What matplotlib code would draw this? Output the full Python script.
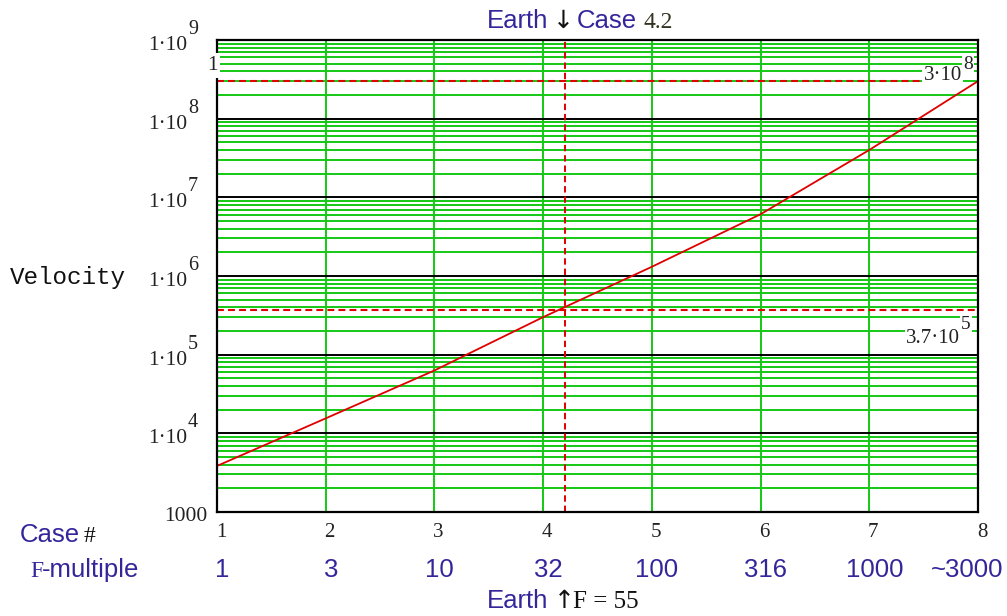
import numpy as np
import matplotlib.pyplot as plt
from matplotlib.transforms import ScaledTranslation

plt.rcParams['mathtext.fontset'] = 'stix'

# data
case_num = [1, 2, 3, 4, 5, 6, 7, 8]
velocity = [3850, 1.55e4, 6.3e4, 3.0e5, 1.31e6, 6.1e6, 4.0e7, 3.0e8]
f_multiple = ['1', '3', '10', '32', '100', '316', '1000', '~3000']
decade_exp = [4, 5, 6, 7, 8, 9]
earth_case = 4.2
earth_vel = 3.7e5
light_vel = 3e8

green = '#14c814'
red = '#e00000'
blue = '#33269a'
serif = 'Liberation Serif'
sans = 'Liberation Sans'

fig = plt.figure(figsize=(10.07, 6.16), dpi=100)
ax = fig.add_axes([217/1007, 1-512/616, 761/1007, 472/616])
ax.set_yscale('log')
ax.set_xlim(1, 8)
ax.set_ylim(1e3, 1e9)

# grid
for k in range(3, 9):
    for m in range(2, 10):
        ax.axhline(m*10**k, color=green, lw=1.4, zorder=1)
    if k > 3:
        ax.axhline(10**k, color='black', lw=1.4, zorder=2)
for c in case_num[1:-1]:
    ax.axvline(c, color=green, lw=1.4, zorder=1)

# curve and markers
ax.plot(case_num, velocity, color=red, lw=1.3, zorder=4)
ax.axvline(earth_case, color=red, lw=1.4, ls=(0, (3.3, 2)), zorder=3)
ax.plot([1, 7.65], [light_vel, light_vel], color=red, lw=1.5, ls=(0, (3.3, 2)), zorder=3)
ax.plot([1, 8], [earth_vel, earth_vel], color=red, lw=1.5, ls=(0, (3.3, 2)), zorder=3)

for s in ax.spines.values():
    s.set_linewidth(1.6)
    s.set_zorder(5)

ax.set_yticks([])
ax.minorticks_off()
ax.set_xticks(case_num)
ax.set_xticklabels([str(c) for c in case_num], fontfamily=serif, fontsize=15, color='#222222')
ax.tick_params(axis='x', length=0, pad=8)
for lab in ax.get_xticklabels():
    lab.set_transform(lab.get_transform() + ScaledTranslation(0.04, 0, fig.dpi_scale_trans))

# y labels like 1.10^n
ytr = ax.get_yaxis_transform()
for e in decade_exp:
    ax.text(0, 10**e, '1\u00b710', transform=ytr + ScaledTranslation(-0.30, -0.10, fig.dpi_scale_trans),
            ha='right', va='baseline', fontfamily=serif, fontsize=15.5, color='#222222', clip_on=False)
    ax.text(0, 10**e, str(e), transform=ytr + ScaledTranslation(-0.29, 0.06, fig.dpi_scale_trans),
            ha='left', va='baseline', fontfamily=serif, fontsize=14.5, color='#222222', clip_on=False)
ax.text(0, 1e3, '1000', transform=ytr + ScaledTranslation(-0.10, -0.09, fig.dpi_scale_trans),
        ha='right', va='baseline', fontfamily=serif, fontsize=15.5, color='#222222', clip_on=False)
ax.text(0, 4.7e8, '1', transform=ytr + ScaledTranslation(-0.05, 0, fig.dpi_scale_trans),
        ha='center', va='center', fontfamily=serif, fontsize=15.5, color='#222222', clip_on=False,
        bbox=dict(facecolor='white', edgecolor='none', pad=2), zorder=6)

# value labels on dashed lines
atr = ax.transData
ax.text(8, light_vel, '3\u00b710', transform=atr + ScaledTranslation(-0.16, 0.01, fig.dpi_scale_trans),
        ha='right', va='baseline', fontfamily=serif, fontsize=15, color='#222222', zorder=6,
        bbox=dict(facecolor='white', edgecolor='none', pad=1))
ax.text(8, light_vel, '8', transform=atr + ScaledTranslation(-0.15, 0.12, fig.dpi_scale_trans),
        ha='left', va='baseline', fontfamily=serif, fontsize=14, color='#222222', zorder=6,
        bbox=dict(facecolor='white', edgecolor='none', pad=1))
ax.text(8, earth_vel, '3.7\u00b710', transform=atr + ScaledTranslation(-0.18, -0.33, fig.dpi_scale_trans),
        ha='right', va='baseline', fontfamily=serif, fontsize=15, color='#222222', zorder=6,
        bbox=dict(facecolor='white', edgecolor='none', pad=1))
ax.text(8, earth_vel, '5', transform=atr + ScaledTranslation(-0.17, -0.19, fig.dpi_scale_trans),
        ha='left', va='baseline', fontfamily=serif, fontsize=14, color='#222222', zorder=6,
        bbox=dict(facecolor='white', edgecolor='none', pad=1))

# F-multiple row
xtr = ax.get_xaxis_transform()
for c, f in zip(case_num, f_multiple):
    if c == case_num[-1]:
        ax.text(c, 0, f, transform=xtr + ScaledTranslation(0.25, -0.65, fig.dpi_scale_trans),
                ha='right', va='baseline', fontfamily=sans, fontsize=18.5, color=blue, clip_on=False)
    else:
        ax.text(c, 0, f, transform=xtr + ScaledTranslation(0.05, -0.65, fig.dpi_scale_trans),
                ha='center', va='baseline', fontfamily=sans, fontsize=18.5, color=blue, clip_on=False)

# row labels
fig.text(20/1007, 1-542/616, 'Case', fontfamily=sans, fontsize=18.5, color=blue, va='baseline')
fig.text(84/1007, 1-542/616, '#', fontfamily=serif, fontsize=17, color='#111111', va='baseline')
fig.text(30/1007, 1-577/616, 'F', fontfamily=serif, fontsize=17, color=blue, va='baseline')
fig.text(42/1007, 1-577/616, '-multiple', fontfamily=sans, fontsize=18.5, color=blue, va='baseline')
fig.text(10/1007, 1-284/616, 'Velocity', fontfamily='Liberation Mono', fontsize=17.5, color='#111111', va='baseline')

# earth marker texts
fig.text(487/1007, 1-28/616, 'Earth', fontfamily=sans, fontsize=18.5, color=blue, va='baseline')
fig.text(563/1007, 1-28/616, '\u2193', fontfamily='DejaVu Sans', fontsize=18, color='#111111', va='baseline', ha='center')
fig.text(577/1007, 1-28/616, 'Case', fontfamily=sans, fontsize=18.5, color=blue, va='baseline')
fig.text(644/1007, 1-28/616, '4.2', fontfamily=serif, fontsize=17, color='#333322', va='baseline')
fig.text(487/1007, 1-608/616, 'Earth', fontfamily=sans, fontsize=18.5, color=blue, va='baseline')
fig.text(564/1007, 1-608/616, '\u2191', fontfamily='DejaVu Sans', fontsize=18, color='#111111', va='baseline', ha='center')
fig.text(573/1007, 1-608/616, 'F = 55', fontfamily=serif, fontsize=18, color='#111111', va='baseline')

fig.savefig('out.png', dpi=100)
